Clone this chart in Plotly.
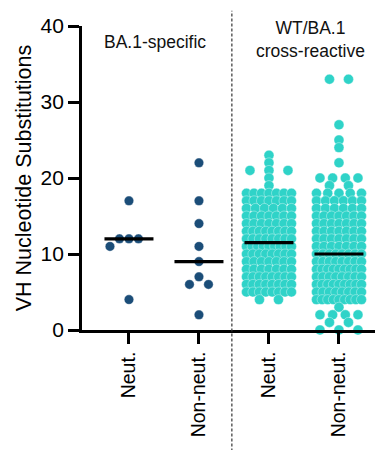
import numpy as np
import plotly.graph_objects as go

# ---------------- data ----------------
categories = ["Neut.", "Non-neut.", "Neut.", "Non-neut."]
group_labels = ["BA.1-specific", "WT/BA.1<br>cross-reactive"]

ba1_neut = [17, 12, 12, 12, 11, 4]
ba1_nonneut = [22, 17, 14, 11, 9, 7, 6, 6, 2]

# value -> count (WT/BA.1 cross-reactive)
cross_neut_counts = {23: 1, 22: 1, 21: 3, 20: 1, 19: 1, 18: 7, 17: 7, 16: 6, 15: 7,
                     14: 7, 13: 8, 12: 8, 11: 9, 10: 8, 9: 7, 8: 7, 7: 8, 6: 8,
                     5: 8, 4: 2}
cross_nonneut_counts = {33: 2, 27: 1, 25: 1, 24: 1, 22: 1, 20: 4, 19: 2, 18: 5,
                        17: 6, 16: 6, 15: 7, 14: 7, 13: 7, 12: 7, 11: 7, 10: 8,
                        9: 8, 8: 9, 7: 8, 6: 9, 5: 8, 4: 9, 3: 1, 2: 4, 1: 2, 0: 3}

navy = "#1b4d78"
cyan = "#2fd3c8"

# ---------------- geometry (page body has an 8px margin) ----------------
W, H = 375, 442
ML, MR, MT, MB = 74, 0, 18, 120
XR = [-0.671, 3.629]
YR = [0, 40]
px_x = (W - ML - MR) / (XR[1] - XR[0])
px_y = (H - MT - MB) / (YR[1] - YR[0])


def expand(counts):
    vals = []
    for v, c in counts.items():
        vals += [v] * c
    return vals


def swarm_greedy(values, d=9.5, step=9.5):
    placed = []
    order = sorted(range(len(values)), key=lambda i: -values[i])
    cands = [0]
    for k in range(1, 12):
        cands += [-k * step, k * step]
    res = [0.0] * len(values)
    for i in order:
        yv = values[i] * px_y
        for c in cands:
            if all((c - px) ** 2 + (yv - py) ** 2 >= d * d for px, py in placed):
                placed.append((c, yv))
                res[i] = c / px_x
                break
    return res


def swarm_rows(values, maxw=45.0, smax=19.0, sparse_w=38.0):
    res = []
    vals = []
    uniq = sorted(set(values), reverse=True)
    for v in uniq:
        n = values.count(v)
        if n == 1:
            s = 0
        elif n <= 4:
            s = min(smax, sparse_w / (n - 1))
        else:
            s = maxw / (n - 1)
        for i in range(n):
            res.append((i - (n - 1) / 2) * s / px_x)
            vals.append(v)
    return vals, res


fig = go.Figure()

groups = []
v1 = ba1_neut
groups.append((0, v1, swarm_greedy(v1), navy, 9.5))
v2 = ba1_nonneut
groups.append((1, v2, swarm_greedy(v2), navy, 9.5))
v3, o3 = swarm_rows(expand(cross_neut_counts))
groups.append((2, v3, o3, cyan, 10))
v4, o4 = swarm_rows(expand(cross_nonneut_counts))
groups.append((3, v4, o4, cyan, 10))

for pos, vals, offs, col, sz in groups:
    fig.add_trace(go.Scatter(
        x=[pos + o for o in offs], y=vals, mode="markers",
        marker=dict(size=sz, color=col,
                    line=dict(color="rgba(255,255,255,0.6)", width=0.6)),
        cliponaxis=False, showlegend=False, hoverinfo="y"))

for pos, vals, offs, col, sz in groups:
    med = float(np.median(vals))
    fig.add_trace(go.Scatter(
        x=[pos - 0.35, pos + 0.35], y=[med, med], mode="lines",
        line=dict(color="black", width=3.2), cliponaxis=False,
        showlegend=False, hoverinfo="skip"))

fig.add_shape(type="line", xref="x", yref="paper", x0=1.47, x1=1.47,
              y0=-0.4, y1=1.05, line=dict(color="#333", width=1.2, dash="3px,2px"))

fig.add_annotation(x=0.37, y=37.9, text=group_labels[0], showarrow=False,
                   font=dict(size=17.5, color="#111"), xanchor="center", yanchor="middle")
fig.add_annotation(x=2.6, y=38.2, text=group_labels[1], showarrow=False,
                   font=dict(size=17.5, color="#111"), xanchor="center", yanchor="middle")

fig.update_layout(
    width=W, height=H,
    margin=dict(l=ML, r=MR, t=MT, b=MB, autoexpand=False),
    plot_bgcolor="white", paper_bgcolor="white",
    font=dict(family="Liberation Sans, Arial, sans-serif", color="black"),
    xaxis=dict(range=XR, tickmode="array", tickvals=[0, 1, 2, 3],
               ticktext=categories, tickangle=-90, ticks="outside", ticklen=11,
               tickwidth=2.5, tickcolor="black", showline=True, linewidth=2.8,
               linecolor="black", showgrid=False, zeroline=False,
               automargin=False, tickfont=dict(size=19.5)),
    yaxis=dict(range=YR, tickvals=[0, 10, 20, 30, 40], ticks="outside",
               ticklen=11, tickwidth=2.5, tickcolor="black", showline=True,
               linewidth=2.8, linecolor="black", showgrid=False, zeroline=False,
               automargin=False, tickfont=dict(size=21),
               title=dict(text="VH Nucleotide Substitutions", font=dict(size=21.5),
                          standoff=4)),
)

fig.write_html("out.html")
